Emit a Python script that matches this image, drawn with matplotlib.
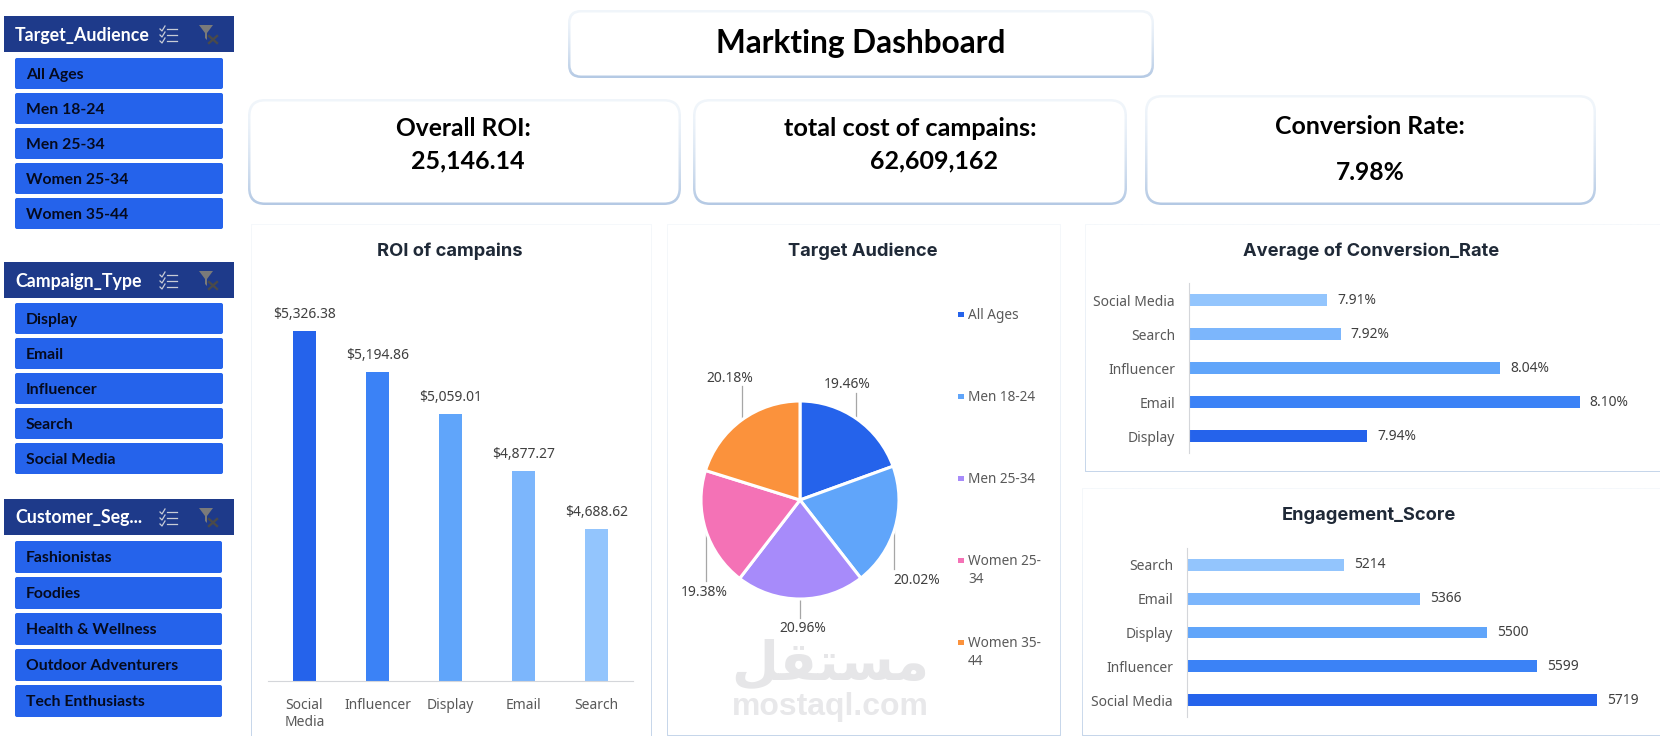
import numpy as np
import matplotlib
matplotlib.use("Agg")
import matplotlib.pyplot as plt
from matplotlib.patches import FancyBboxPatch, Rectangle, Polygon

W, H = 1660, 736

audience_items = ["All Ages", "Men 18-24", "Men 25-34", "Women 25-34", "Women 35-44"]
campaign_items = ["Display", "Email", "Influencer", "Search", "Social Media"]
segment_items = ["Fashionistas", "Foodies", "Health & Wellness", "Outdoor Adventurers", "Tech Enthusiasts"]

overall_roi = "25,146.14"
total_cost = "62,609,162"
conversion_rate = "7.98%"

roi_labels = ["Social\nMedia", "Influencer", "Display", "Email", "Search"]
roi_values = [5326.38, 5194.86, 5059.01, 4877.27, 4688.62]

pie_labels = ["All Ages", "Men 18-24", "Men 25-34", "Women 25-\n34", "Women 35-\n44"]
pie_values = [19.46, 20.02, 20.96, 19.38, 20.18]

conv_labels = ["Display", "Email", "Influencer", "Search", "Social Media"]
conv_values = [7.94, 8.10, 8.04, 7.92, 7.91]

eng_labels = ["Social Media", "Influencer", "Display", "Email", "Search"]
eng_values = [5719, 5599, 5500, 5366, 5214]

BAR_COLORS = ["#2563EB", "#3B82F6", "#60A5FA", "#7CB6FC", "#93C5FD"]
PIE_COLORS = ["#2563EB", "#60A5FA", "#A78BFA", "#F472B6", "#FB923C"]
HEADER = "#1E3A8A"
FONT = "Lato"
CHART_FONT = "Noto Sans"
TITLE_FONT = "Inter"
TITLE_COLOR = "#1F2937"
LABEL_COLOR = "#404040"
TICK_COLOR = "#595959"
AXIS_LINE = "#D4D6DA"

plt.rcParams["font.family"] = [FONT, "DejaVu Sans"]

fig = plt.figure(figsize=(W / 100, H / 100), dpi=100, facecolor="white")

# full-figure layer in pixel coordinates for panels, slicers and texts
bg = fig.add_axes([0, 0, 1, 1])
bg.set_xlim(0, W)
bg.set_ylim(H, 0)
bg.axis("off")


def axes_px(x0, y0, x1, y1):
    ax = fig.add_axes([x0 / W, 1 - y1 / H, (x1 - x0) / W, (y1 - y0) / H])
    ax.patch.set_alpha(0)
    return ax


def card(x0, y0, x1, y1, radius, inset, top="#F1F6FB", bottom="#B4C9E4"):
    # rounded box whose border fades from pale at the top to blue at the bottom
    outer = FancyBboxPatch((x0 + radius, y0 + radius), x1 - x0 - 2 * radius, y1 - y0 - 2 * radius,
                           boxstyle="round,pad=%f,rounding_size=%f" % (radius, radius),
                           fc="none", ec="none", transform=bg.transData)
    bg.add_patch(outer)
    c0 = np.array(matplotlib.colors.to_rgb(top))
    c1 = np.array(matplotlib.colors.to_rgb(bottom))
    t = np.linspace(0, 1, 128)[:, None, None] ** 1.6
    img = c0[None, None, :] * (1 - t) + c1[None, None, :] * t
    im = bg.imshow(img, extent=(x0, x1, y1, y0), aspect="auto", zorder=1)
    im.set_clip_path(outer)
    r = max(radius - inset, 0.5)
    bg.add_patch(FancyBboxPatch((x0 + inset + r, y0 + inset + r),
                                x1 - x0 - 2 * inset - 2 * r, y1 - y0 - 2 * inset - 2 * r,
                                boxstyle="round,pad=%f,rounding_size=%f" % (r, r),
                                fc="white", ec="none", zorder=2))


def slicer(title, items, head_y, item_y, item_h, item_right, step):
    bg.add_patch(Rectangle((4, head_y), 230, 36, fc=HEADER, ec="none", zorder=3))
    bg.text(15, head_y + 19, title, color="white", fontsize=12.8, fontweight="bold",
            va="center", ha="left", zorder=4)

    # checklist icon
    ix, iy = 160, head_y + 10
    for k in range(3):
        yy = iy + 3 + k * 6
        bg.plot([ix + 7, ix + 17], [yy, yy], color="#C8CCD6", lw=0.9, zorder=4)
        bg.plot([ix, ix + 2, ix + 5], [yy, yy + 2, yy - 3], color="#C8CCD6", lw=0.9, zorder=4)

    # clear-filter icon
    fx, fy = 199, head_y + 9
    bg.add_patch(Polygon([(fx, fy), (fx + 14, fy), (fx + 8, fy + 8), (fx + 8, fy + 15), (fx + 6, fy + 13), (fx + 6, fy + 8)],
                         fc="#7A7A7A", ec="none", zorder=4))
    bg.plot([fx + 10, fx + 18], [fy + 11, fy + 18], color="#4A4A4A", lw=1.7, zorder=4)
    bg.plot([fx + 18, fx + 10], [fy + 11, fy + 18], color="#4A4A4A", lw=1.7, zorder=4)

    for i, name in enumerate(items):
        y = item_y + i * step
        bg.add_patch(FancyBboxPatch((16, y + 1), item_right - 17, item_h - 2,
                                    boxstyle="round,pad=1,rounding_size=2",
                                    fc="#2563EB", ec="none", zorder=3))
        bg.text(26, y + item_h / 2 + 1.5, name, color="#050A1E", fontsize=11.3, fontweight="bold",
                va="center", ha="left", zorder=4)


slicer("Target_Audience", audience_items, 16, 58, 31, 223, 35)
slicer("Campaign_Type", campaign_items, 262, 303, 31, 223, 35)
slicer("Customer_Seg...", segment_items, 499, 541, 32, 222, 36)

# title and KPI cards
card(568, 10, 1154, 78, 13, 2.5)
card(248, 99, 681, 205, 17, 2.5)
card(693, 99, 1127, 205, 17, 2.5)
card(1145, 95, 1596, 205, 17, 2.5)

kpi = dict(color="black", fontweight="bold", ha="center", va="center", zorder=5)
bg.text(861, 43, "Markting Dashboard", fontsize=22.8, **kpi)
bg.text(463, 129, "Overall ROI:", fontsize=17.7, **kpi)
bg.text(468, 161, overall_roi, fontsize=18, **kpi)
bg.text(910, 129, "total cost of campains:", fontsize=18.2, **kpi)
bg.text(934, 161, total_cost, fontsize=18, **kpi)
bg.text(1370, 126, "Conversion Rate:", fontsize=17.9, **kpi)
bg.text(1370, 172, conversion_rate, fontsize=17.7, **kpi)

# chart panels
card(251, 224, 652, 740, 0.5, 1, top="#F5F8FB", bottom="#C6D6EA")
card(667, 224, 1061, 736, 0.5, 1, top="#F5F8FB", bottom="#C6D6EA")
card(1085, 224, 1664, 472, 0.5, 1, top="#F5F8FB", bottom="#C6D6EA")
card(1082, 488, 1664, 736, 0.5, 1, top="#F5F8FB", bottom="#C6D6EA")

ttl = dict(color=TITLE_COLOR, fontweight="bold", family=TITLE_FONT, fontsize=13.2, ha="center", va="center", zorder=5)
bg.text(450, 251, "ROI of campains", **ttl)
bg.text(863, 251, "Target Audience", **ttl)
bg.text(1371, 251, "Average of Conversion_Rate", **ttl)
bg.text(1369, 515, "Engagement_Score", **ttl)

# ROI column chart, the value axis starts at 4200
ax = axes_px(268, 300, 633, 681)
pos = np.arange(len(roi_values))
bars = ax.bar(pos, roi_values, width=0.315, color=BAR_COLORS)
ax.bar_label(bars, labels=["${:,.2f}".format(v) for v in roi_values], padding=6.5,
             fontsize=10, color=LABEL_COLOR, family=CHART_FONT)
ax.set_xlim(-0.5, 4.5)
ax.set_ylim(4200, 5427)
ax.set_xticks(pos, roi_labels, fontsize=10, color=TICK_COLOR, family=CHART_FONT, linespacing=1.25)
ax.set_yticks([])
ax.tick_params(axis="x", length=0, pad=12)
for s in ["top", "left", "right"]:
    ax.spines[s].set_visible(False)
ax.spines["bottom"].set_color(AXIS_LINE)

# pie with leader lines to its labels
ax = axes_px(701, 401, 899, 599)
ax.pie(pie_values, colors=PIE_COLORS, startangle=90, counterclock=False, radius=1,
       wedgeprops=dict(edgecolor="white", linewidth=2.2))
ax.set_xlim(-1, 1)
ax.set_ylim(-1, 1)

label_at = [(847, 384), (917, 580), (803, 629), (704, 592), (730, 378)]
leaders = [(856, 393, 419), (894, 528, 569), (800, 598, 618), (706, 530, 581), (742, 386, 420)]
for v, (tx, ty), (lx, ly0, ly1) in zip(pie_values, label_at, leaders):
    bg.text(tx, ty, "%.2f%%" % v, fontsize=10, color=LABEL_COLOR, family=CHART_FONT,
            ha="center", va="center", zorder=5)
    bg.plot([lx, lx], [ly0, ly1], color="#A6A6A6", lw=0.9, zorder=5)

legend_y = [314, 396, 478, 560, 642]
for y, name, c in zip(legend_y, pie_labels, PIE_COLORS):
    bg.add_patch(Rectangle((958, y - 2.5), 5.5, 5.5, fc=c, ec="none", zorder=5))
    bg.text(968, y - 6, name, fontsize=9.8, color=TICK_COLOR, family=CHART_FONT,
            ha="left", va="top", linespacing=1.3, zorder=5)

# conversion rate bars, axis starts just under 7.81
ax = axes_px(1189, 283, 1620, 453)
pos = np.arange(len(conv_values))
bars = ax.barh(pos, conv_values, height=0.353, color=BAR_COLORS)
ax.bar_label(bars, labels=["%.2f%%" % v for v in conv_values], padding=7,
             fontsize=10, color=LABEL_COLOR, family=CHART_FONT)
ax.set_xlim(7.806, 8.130)
ax.set_ylim(-0.5, 4.5)
ax.set_yticks(pos, conv_labels, fontsize=10, color=TICK_COLOR, family=CHART_FONT)
ax.set_xticks([])
ax.tick_params(axis="y", length=0, pad=10)
for s in ["top", "bottom", "right"]:
    ax.spines[s].set_visible(False)
ax.spines["left"].set_color(AXIS_LINE)

# engagement score bars, axis starts at 4900
ax = axes_px(1187, 548, 1620, 717)
pos = np.arange(len(eng_values))
bars = ax.barh(pos, eng_values, height=0.353, color=BAR_COLORS)
ax.bar_label(bars, labels=[str(v) for v in eng_values], padding=7,
             fontsize=10, color=LABEL_COLOR, family=CHART_FONT)
ax.set_xlim(4900, 5764.7)
ax.set_ylim(-0.5, 4.5)
ax.set_yticks(pos, eng_labels, fontsize=10, color=TICK_COLOR, family=CHART_FONT)
ax.set_xticks([])
ax.tick_params(axis="y", length=0, pad=10)
for s in ["top", "bottom", "right"]:
    ax.spines[s].set_visible(False)
ax.spines["left"].set_color(AXIS_LINE)

# site watermark, letters given in their joined forms
bg.text(830, 664, "\ufede\ufed8\ufe98\ufeb4\ufee3", color="#E6E6E8", fontsize=39, fontweight="bold",
        family="DejaVu Sans", ha="center", va="center", zorder=5)
bg.text(830, 707, "mostaql.com", color="#E8E8EA", fontsize=23, fontweight="bold",
        family="Liberation Sans", ha="center", va="center", zorder=5)

fig.savefig("out.png", dpi=100)
